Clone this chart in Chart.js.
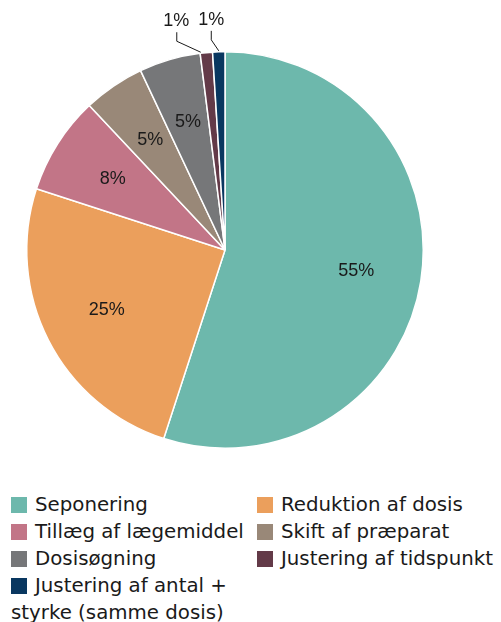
<!DOCTYPE html>
<html><head><meta charset="utf-8">
<script src="https://cdn.jsdelivr.net/npm/chart.js@4/dist/chart.umd.min.js"></script>
<style>
html,body{margin:0;padding:0;background:#fff;}
body{width:501px;height:622px;position:relative;overflow:hidden;font-family:"DejaVu Sans",sans-serif;color:#1a1a1a;}
#wrap{position:absolute;left:0;top:0;width:450px;height:470px;}
#legend{position:absolute;left:11px;top:491px;width:495px;font-size:19.8px;line-height:27px;white-space:normal;}
.item{display:inline-block;vertical-align:top;width:246px;}
.sw{display:inline-block;width:16px;height:16px;margin-right:8px;vertical-align:-2px;}
</style></head><body>
<div id="wrap"><canvas id="c"></canvas></div>
<div id="legend"></div>
<script>
const categories = ["Seponering","Reduktion af dosis","Tillæg af lægemiddel","Skift af præparat","Dosisøgning","Justering af tidspunkt","Justering af antal + styrke (samme dosis)"];
const values = [55,25,8,5,5,1,1];
const colors = ["#6db8ac","#eb9f5c","#c27587","#998878","#767779","#633a48","#093760"];

const labelPlugin = {
  id:'pctLabels',
  afterDatasetsDraw(chart){
    const ctx = chart.ctx;
    const meta = chart.getDatasetMeta(0);
    ctx.save();
    ctx.font = '18px "Liberation Sans", Arial, sans-serif';
    ctx.fillStyle = '#1a1a1a';
    ctx.textAlign='center'; ctx.textBaseline='middle';
    // frac: where along the slice the leader line starts; kx/ky: knee offset
    const outsideOffsets = {5:{frac:0.05,kx:-24,ky:-11,lx:-0.5}, 6:{frac:0.5,kx:-7.5,ky:-11,lx:0}};
    meta.data.forEach((arc,i)=>{
      const p = arc.getProps(['x','y','startAngle','endAngle','outerRadius'],true);
      const mid=(p.startAngle+p.endAngle)/2;
      const txt = values[i]+'%';
      if(outsideOffsets[i]){
        const o=outsideOffsets[i];
        const a=p.startAngle+(p.endAngle-p.startAngle)*o.frac;
        const ex=p.x+Math.cos(a)*p.outerRadius, ey=p.y+Math.sin(a)*p.outerRadius-1;
        const kx=ex+o.kx, ky=ey+o.ky;
        ctx.strokeStyle='#1a1a1a'; ctx.lineWidth=1;
        ctx.beginPath(); ctx.moveTo(ex,ey); ctx.lineTo(kx,ky); ctx.lineTo(kx,ky-9); ctx.stroke();
        ctx.fillText(txt,kx+o.lx,ky-20);
      } else {
        const r=p.outerRadius*0.67;
        ctx.fillText(txt,p.x+Math.cos(mid)*r,p.y+Math.sin(mid)*r);
      }
    });
    ctx.restore();
  }
};

new Chart(document.getElementById('c'),{
  type:'pie',
  data:{labels:categories,datasets:[{data:values,backgroundColor:colors,borderColor:'#ffffff',borderWidth:1.5}]},
  options:{
    responsive:true,maintainAspectRatio:false,animation:false,
    layout:{padding:{left:26,right:26,top:51,bottom:21}},
    plugins:{legend:{display:false},tooltip:{enabled:false}}
  },
  plugins:[labelPlugin]
});

const lg=document.getElementById('legend');
categories.forEach((c,i)=>{
  const d=document.createElement('div'); d.className='item';
  const s=document.createElement('span'); s.className='sw'; s.style.background=colors[i];
  d.appendChild(s); d.appendChild(document.createTextNode(c));
  lg.appendChild(d);
});
</script>
</body></html>
